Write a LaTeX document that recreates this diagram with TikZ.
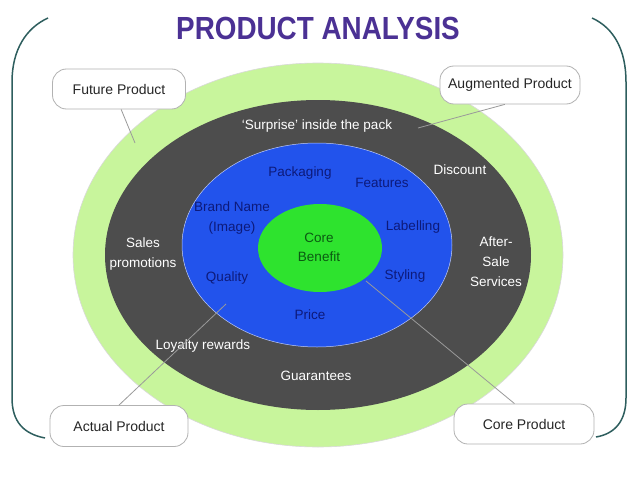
\documentclass[tikz,border=0pt]{standalone}
\usepackage{fontspec}
\setmainfont{Liberation Sans}
\definecolor{framec}{HTML}{2E5E5E}
\definecolor{titlec}{HTML}{4B3194}
\definecolor{ringc}{HTML}{C8F59C}
\definecolor{darkc}{HTML}{4D4D4D}
\definecolor{bluec}{HTML}{2253EC}
\definecolor{corec}{HTML}{2EE32E}
\definecolor{navyc}{HTML}{0D1A7A}
\definecolor{cgreen}{HTML}{0B5A12}
\definecolor{linec}{HTML}{9A9A9A}
\begin{document}
\begin{tikzpicture}[x=1pt,y=-1pt,
  callout/.style={draw=black!30, fill=white, rounded corners=14pt, line width=0.8pt,
    font=\fontsize{14}{16}\selectfont, text=black!85, inner sep=0pt},
  wtext/.style={text=white, font=\fontsize{13.5}{20}\selectfont, align=center},
  btext/.style={text=navyc, font=\fontsize{13.5}{20}\selectfont, align=center},
  ctext/.style={text=cgreen, font=\fontsize{13.5}{19}\selectfont, align=center},
  conn/.style={draw=linec, line width=0.8pt},
  framel/.style={draw=framec, line width=1.5pt}]
\useasboundingbox (0,0) rectangle (638,479);
\fill[white] (0,0) rectangle (638,479);
% frame
\draw[framel] (48,18) .. controls (26,28) and (12,50) .. (12,82) -- (12,398) .. controls (12,422) and (24,434) .. (45,438);
\draw[framel] (592,18) .. controls (614,28) and (626,50) .. (626,82) -- (626,398) .. controls (626,422) and (614,434) .. (596,437);
% title
\node[text=titlec, font=\fontsize{32}{36}\selectfont\bfseries] (title) at (318,28) {\scalebox{0.87}[1]{PRODUCT ANALYSIS}};
% ellipses
\path[fill=ringc, draw=black!15, line width=0.6pt] (318,255) ellipse [x radius=245pt, y radius=192pt];
\path[fill=darkc] (318,255) ellipse [x radius=213pt, y radius=155pt];
\path[fill=bluec, draw=white!70!bluec, line width=0.5pt] (317,245) ellipse [x radius=135pt, y radius=102pt];
\path[fill=corec] (320,248) ellipse [x radius=62pt, y radius=44pt];
% white texts
\node[wtext] (surprise) at (317,126) {`Surprise' inside the pack};
\node[wtext] (discount) at (460,170) {Discount};
\node[wtext] (sales) at (143,254) {Sales\\promotions};
\node[wtext] (after) at (496,262) {After-\\Sale\\Services};
\node[wtext] (loyalty) at (203,346) {Loyalty rewards};
\node[wtext] (guar) at (316,376) {Guarantees};
% blue texts
\node[btext] (pack) at (300,173) {Packaging};
\node[btext] (feat) at (382,183) {Features};
\node[btext] (brand) at (232,218) {Brand Name\\(Image)};
\node[btext] (label) at (413,227) {Labelling};
\node[btext] (qual) at (227,278) {Quality};
\node[btext] (styl) at (405,276) {Styling};
\node[btext] (price) at (310,315) {Price};
\node[ctext] (core) at (319,247) {Core\\Benefit};
% callouts
\node[callout, minimum width=133pt, minimum height=40pt] (fp) at (119,89) {Future Product};
\node[callout, minimum width=140pt, minimum height=38pt] (ap) at (510,85) {Augmented Product};
\node[callout, minimum width=138pt, minimum height=41pt] (acp) at (119,426) {Actual Product};
\node[callout, minimum width=140pt, minimum height=40pt] (cp) at (524,424) {Core Product};
% connector ends
\coordinate (fpE) at (135,143);
\coordinate (apE) at (418,128);
\coordinate (acpE) at (226,304);
\coordinate (cpE) at (366,281);
\draw[conn] (fp.-84) -- (fpE);
\draw[conn] (ap.-105) -- (apE);
\draw[conn] (acp.north) -- (acpE);
\draw[conn] (cp.115) -- (cpE);
\end{tikzpicture}
\end{document}
